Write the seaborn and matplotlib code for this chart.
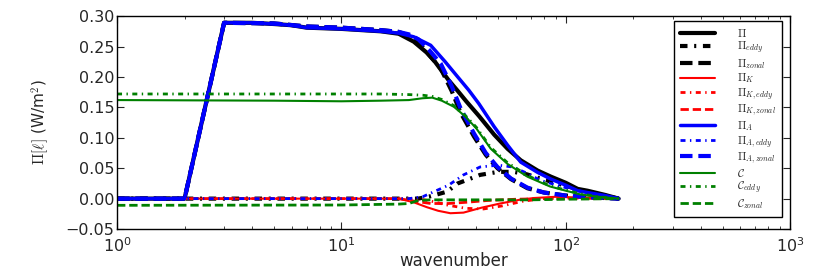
import numpy as np
import pandas as pd
import matplotlib
matplotlib.use("Agg")
import matplotlib.pyplot as plt
import seaborn as sns

# ---------------- data ----------------
k_pi = [1, 2, 3, 4, 5, 6, 7, 10, 15, 18, 21, 24, 26, 30, 33, 36, 41, 48, 55, 63, 75, 86, 100, 113, 125, 150, 172]
pi_total = [0, 0, 0.289, 0.289, 0.287, 0.285, 0.281, 0.279, 0.275, 0.271, 0.258, 0.240, 0.226, 0.195, 0.177,
            0.160, 0.136, 0.105, 0.082, 0.063, 0.046, 0.036, 0.026, 0.016, 0.013, 0.006, 0.0]

k_eddy = [1, 10, 22, 25, 29.6, 33, 41.5, 50, 58.6, 67, 77, 86, 100, 130, 172]
pi_eddy = [0, 0, 0, 0.004, 0.0115, 0.025, 0.039, 0.044, 0.044, 0.040, 0.033, 0.028, 0.021, 0.009, 0.0]

k_zon = [1, 2, 3, 5, 7, 10, 15, 18, 20, 22, 24.5, 27.7, 31, 34, 39, 44, 49.6, 57, 67.5, 80, 100, 130, 172]
pi_a_zonal = [0, 0, 0.289, 0.288, 0.283, 0.281, 0.277, 0.274, 0.270, 0.262, 0.245, 0.222, 0.185, 0.148,
              0.107, 0.075, 0.052, 0.033, 0.018, 0.010, 0.005, 0.002, 0.0]
pi_zonal = [0, 0, 0.289, 0.288, 0.283, 0.281, 0.277, 0.274, 0.268, 0.258, 0.237, 0.214, 0.177, 0.141,
            0.102, 0.072, 0.050, 0.032, 0.017, 0.010, 0.005, 0.002, 0.0]

k_k = [1, 18, 21, 24, 27, 30.6, 35, 42, 51, 62, 72, 90, 110, 140, 172]
pi_k = [0, 0, -0.006, -0.014, -0.020, -0.024, -0.023, -0.015, -0.008, -0.002, 0.001, 0.003, 0.002, 0.001, 0.0]
k_keddy = [1, 22, 25, 30, 36, 43, 52, 65, 80, 100, 172]
pi_k_eddy = [0, 0, -0.004, -0.011, -0.016, -0.017, -0.012, -0.004, 0.0, 0.001, 0.0]
k_kzon = [1, 18, 21, 25, 30, 36, 45, 60, 80, 172]
pi_k_zonal = [0, 0, -0.004, -0.008, -0.008, -0.006, -0.003, -0.001, 0.0, 0.0]

k_a = [1, 2, 3, 4, 5, 6, 7, 10, 15, 18, 21, 25, 29, 33, 37, 41, 48, 55, 63, 75, 86, 100, 113, 125, 150, 172]
pi_a = [0, 0, 0.289, 0.289, 0.287, 0.285, 0.281, 0.279, 0.275, 0.272, 0.266, 0.252, 0.225, 0.200, 0.178,
        0.156, 0.118, 0.088, 0.060, 0.043, 0.032, 0.022, 0.013, 0.010, 0.005, 0.0]
k_aeddy = [1, 20, 23, 25, 30, 35, 41.5, 50, 58, 67, 77, 100, 130, 172]
pi_a_eddy = [0, 0, 0.003, 0.009, 0.022, 0.039, 0.052, 0.055, 0.052, 0.042, 0.030, 0.018, 0.008, 0.0]

k_c = [1, 5, 10, 15, 20, 23, 25.4, 28, 31.7, 35.8, 40, 46.3, 55, 67.5, 85, 100, 116, 140, 172]
c_total = [0.162, 0.161, 0.160, 0.161, 0.162, 0.165, 0.166, 0.161, 0.151, 0.1345, 0.115, 0.082, 0.057,
           0.036, 0.020, 0.013, 0.007, 0.003, 0.0]
c_eddy = [0.172, 0.172, 0.172, 0.172, 0.171, 0.170, 0.168, 0.163, 0.153, 0.136, 0.117, 0.084, 0.059,
          0.038, 0.021, 0.014, 0.008, 0.003, 0.0]
k_czon = [1, 10, 18, 20, 22, 25, 40, 70, 100, 172]
c_zonal = [-0.011, -0.0105, -0.009, -0.008, -0.003, -0.002, -0.002, -0.002, -0.001, 0.0]

labels = [r'$\Pi$', r'$\Pi_{eddy}$', r'$\Pi_{zonal}$',
          r'$\Pi_K$', r'$\Pi_{K,eddy}$', r'$\Pi_{K,zonal}$',
          r'$\Pi_A$', r'$\Pi_{A,eddy}$', r'$\Pi_{A,zonal}$',
          r'$\mathcal{C}$', r'$\mathcal{C}_{eddy}$', r'$\mathcal{C}_{zonal}$']

# ---------------- style ----------------
sns.set_style("ticks")
plt.rcParams.update({
    "font.family": ["DejaVu Sans"],
    "mathtext.fontset": "cm",
    "xtick.direction": "in", "ytick.direction": "in",
    "xtick.top": True, "ytick.right": True,
    "xtick.major.size": 5, "ytick.major.size": 5,
    "xtick.minor.size": 2.5, "ytick.minor.size": 2.5,
    "axes.linewidth": 1.0, "axes.edgecolor": "black",
})

fig = plt.figure(figsize=(8.3, 2.73), dpi=100)
ax = fig.add_axes([0.141, 0.161, 0.811, 0.780])

DASHDOT = (0, (1.8, 1.6, 0.5, 1.6))
DASHED = (0, (3.0, 1.4))
series = [
    (k_pi, pi_total, 'black', '-', 3.0),
    (k_eddy, pi_eddy, 'black', DASHDOT, 3.0),
    (k_zon, pi_zonal, 'black', DASHED, 3.0),
    (k_k, pi_k, 'red', '-', 1.5),
    (k_keddy, pi_k_eddy, 'red', DASHDOT, 2.0),
    (k_kzon, pi_k_zonal, 'red', DASHED, 2.0),
    (k_a, pi_a, 'blue', '-', 2.5),
    (k_aeddy, pi_a_eddy, 'blue', DASHDOT, 2.0),
    (k_zon, pi_a_zonal, 'blue', DASHED, 3.0),
    (k_c, c_total, 'green', '-', 1.5),
    (k_c, c_eddy, 'green', DASHDOT, 2.0),
    (k_czon, c_zonal, 'green', DASHED, 2.0),
]
for (kx, vy, col, ls, lw), lab in zip(series, labels):
    sns.lineplot(x=kx, y=vy, ax=ax, color=col, linestyle=ls, linewidth=lw,
                 label=lab, sort=False, estimator=None)

ax.set_xscale('log')
ax.set_xlim(1, 1000)
ax.set_ylim(-0.05, 0.30)
ax.set_yticks([-0.05, 0.0, 0.05, 0.10, 0.15, 0.20, 0.25, 0.30])
ax.set_yticklabels(['\u22120.05', '0.00', '0.05', '0.10', '0.15', '0.20', '0.25', '0.30'])
ax.tick_params(axis='both', which='major', labelsize=11.5, pad=2)
ax.tick_params(axis='x', which='major', pad=5)
ax.set_xlabel('wavenumber', fontsize=12, labelpad=-2)
ax.set_ylabel(r'$\Pi[\ell]$ (W/m$^2$)', fontsize=11, labelpad=10)

leg = ax.legend(loc='upper right', bbox_to_anchor=(0.988, 0.977), fontsize=8,
                frameon=True, fancybox=False, framealpha=1, edgecolor='black',
                handlelength=3.2, handletextpad=2.0, labelspacing=0.08,
                borderpad=0.5, borderaxespad=0)
leg.get_frame().set_linewidth(1.0)

fig.savefig('out.png', dpi=100)
